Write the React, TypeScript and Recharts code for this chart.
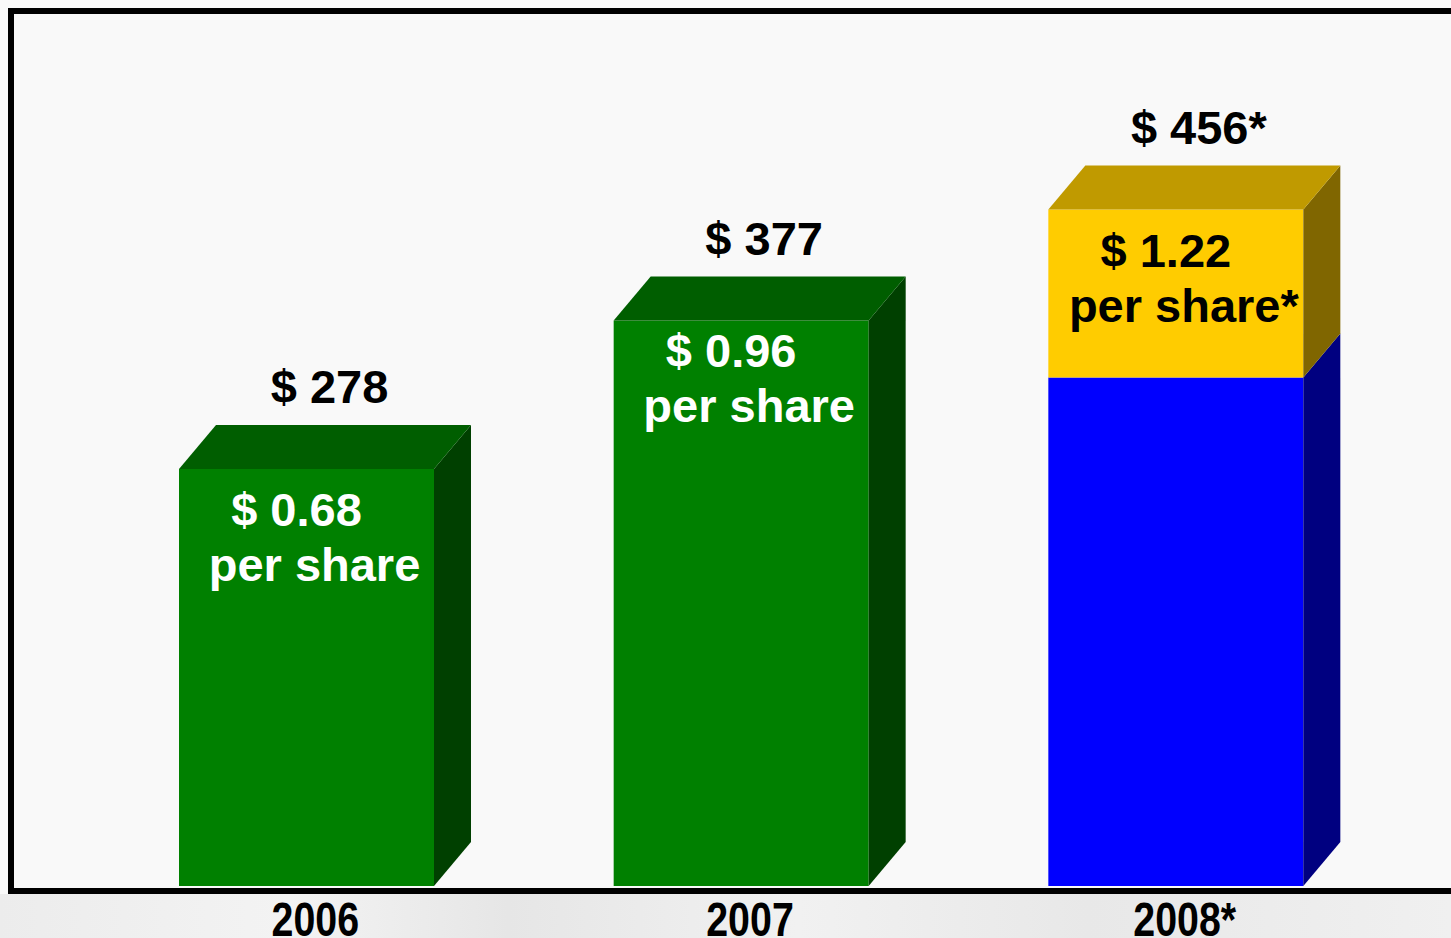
import React from "react";
import { BarChart, Bar, XAxis, YAxis } from "recharts";

// values (bar heights, not the printed totals)
const categories = ["2006", "2007", "2008*"];
const baseValues = [278, 377, 339];
const topValues = [0, 0, 112];
const totalLabels = ["$ 278", "$ 377", "$ 456*"];
const perShareLabels = ["$ 0.68", "$ 0.96", "$ 1.22"];
const perShareText = ["per share", "per share", "per share*"];

const data = categories.map((name, i) => ({
  name,
  base: baseValues[i],
  top: topValues[i],
}));

// 3d depth of the blocks
const DX = 37;
const DY = 44;
const FONT = '"Liberation Sans", Arial, sans-serif';

const green = { front: "#008000", top: "#005e00", side: "#004000", text: "#ffffff" };
const blue = { front: "#0000ff", top: "#0000a0", side: "#000080", text: "#ffffff" };
const yellow = { front: "#ffcc00", top: "#c09a00", side: "#806600", text: "#000000" };
const baseColors = [green, green, blue];
// inner label nudge per bar (2007 text sits a bit higher)
const innerShift = [0, -11, 0];

function Block3D(props: any) {
  const { x, y, width, height, index, segment } = props;
  if (!height || height <= 0) return null;
  const c = segment === "top" ? yellow : baseColors[index];
  const isTopmost = segment === "top" || topValues[index] === 0;
  const r = x + width;
  const cx = x + width / 2;
  const shift = innerShift[index] || 0;

  return (
    <g>
      <rect x={x} y={y} width={width} height={height} fill={c.front} />
      <polygon
        points={`${r},${y} ${r + DX},${y - DY} ${r + DX},${y + height - DY} ${r},${y + height}`}
        fill={c.side}
      />
      {isTopmost && (
        <>
          <polygon
            points={`${x},${y} ${x + DX},${y - DY} ${r + DX},${y - DY} ${r},${y}`}
            fill={c.top}
          />
          <text
            x={cx + 23}
            y={y - DY - 22}
            textAnchor="middle"
            fontFamily={FONT}
            fontWeight="bold"
            fontSize={47}
            fill="#000"
          >
            {totalLabels[index]}
          </text>
          <text
            x={cx - 10}
            y={y + 57 + shift}
            textAnchor="middle"
            fontFamily={FONT}
            fontWeight="bold"
            fontSize={47}
            fill={c.text}
          >
            {perShareLabels[index]}
          </text>
          <text
            x={cx + 8}
            y={y + 112 + shift}
            textAnchor="middle"
            fontFamily={FONT}
            fontWeight="bold"
            fontSize={47}
            fill={c.text}
          >
            {perShareText[index]}
          </text>
        </>
      )}
    </g>
  );
}

function YearTick({ x, y, payload }: any) {
  return (
    <text
      transform={`translate(${x + 9},${y + 42}) scale(0.82,1)`}
      textAnchor="middle"
      fontFamily={FONT}
      fontWeight="bold"
      fontSize={48}
      fill="#000"
    >
      {payload.value}
    </text>
  );
}

export default function App() {
  return (
    <div
      style={{
        position: "absolute",
        left: 0,
        top: 0,
        width: 1451,
        height: 938,
        overflow: "hidden",
        background: "#f9f9f9",
      }}
    >
      {/* faded strip under the axis */}
      <div
        style={{
          position: "absolute",
          left: 0,
          top: 894,
          width: 1451,
          height: 44,
          background:
            "linear-gradient(90deg, #ececec 0%, #f3f3f3 20%, #e6e6e6 35%, #f1f1f1 55%, #e8e8e8 75%, #f0f0f0 100%)",
        }}
      />
      {/* frame: top, left and bottom rules */}
      <div
        style={{
          position: "absolute",
          left: 8,
          top: 8,
          width: 1460,
          height: 886,
          boxSizing: "border-box",
          borderTop: "6px solid #000",
          borderLeft: "6px solid #000",
          borderBottom: "6px solid #000",
        }}
      />
      <div style={{ position: "absolute", left: 0, top: 0 }}>
        <BarChart
          width={1451}
          height={938}
          data={data}
          margin={{ top: 136, right: 58, left: 89, bottom: 0 }}
        >
          <XAxis
            dataKey="name"
            axisLine={false}
            tickLine={false}
            interval={0}
            height={52}
            tick={<YearTick />}
          />
          <YAxis hide domain={[0, 500]} />
          <Bar
            dataKey="base"
            stackId="a"
            barSize={255}
            isAnimationActive={false}
            shape={(p: any) => <Block3D {...p} segment="base" />}
          />
          <Bar
            dataKey="top"
            stackId="a"
            barSize={255}
            isAnimationActive={false}
            shape={(p: any) => <Block3D {...p} segment="top" />}
          />
        </BarChart>
      </div>
    </div>
  );
}
